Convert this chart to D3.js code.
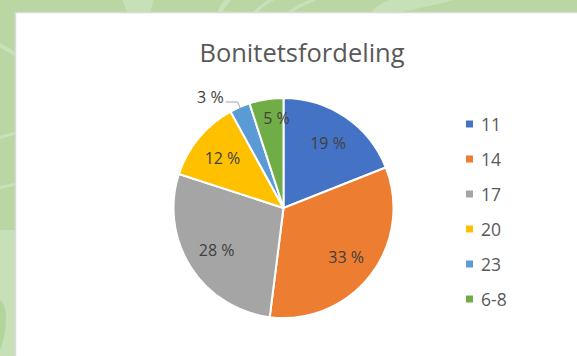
<!DOCTYPE html>
<html>
<head>
<meta charset="utf-8">
<script src="https://cdn.jsdelivr.net/npm/d3@7"></script>
<style>
  html, body { margin: 0; padding: 0; background: #b9d6a3; }
  svg { display: block; }
</style>
</head>
<body>
<svg id="chart" width="577" height="356"></svg>
<script>
// Bonitet classes and their share of the area (percent)
const categories = ["11", "14", "17", "20", "23", "6-8"];
const shares = [19, 33, 28, 12, 3, 5];
const colors = ["#4472C4", "#ED7D31", "#A5A5A5", "#FFC000", "#5B9BD5", "#70AD47"];
const title = "Bonitetsfordeling";

const W = 577, H = 356;
const svg = d3.select("#chart");
const font = "'Open Sans', 'Noto Sans', sans-serif";

// --- green backdrop with soft decorative swirls ---
svg.append("rect").attr("width", W).attr("height", H).attr("fill", "#b9d6a3");
const deco = svg.append("g").attr("fill", "none").attr("stroke", "#c9e1b9");
deco.append("path").attr("d", "M-10,40 C20,55 40,70 70,90").attr("stroke-width", 4);
deco.append("path").attr("d", "M-10,140 C10,135 30,128 60,125").attr("stroke-width", 3);
deco.append("path").attr("d", "M-10,190 C10,185 30,180 60,176").attr("stroke-width", 3);
deco.append("path").attr("d", "M215,30 C218,10 225,0 240,-10").attr("stroke-width", 5);
deco.append("path").attr("d", "M255,30 C240,15 270,0 290,-10").attr("stroke-width", 3);
deco.append("path").attr("d", "M270,30 C285,10 310,0 340,-10").attr("stroke-width", 3);
svg.append("path").attr("d", "M120,-5 L155,-5 L150,14 L128,14 Z").attr("fill", "#c8e0b8");
svg.append("path").attr("d", "M370,14 C380,0 400,-5 420,-5 L470,-5 C440,5 410,10 390,14 Z").attr("fill", "#c8e0b8");
svg.append("rect").attr("x", 0).attr("y", 230).attr("width", 16).attr("height", 130).attr("fill", "#c8e0b7");
svg.append("path").attr("d", "M0,300 C8,305 8,330 0,350 Z").attr("fill", "#b4d49d");

// --- white chart area ---
svg.append("rect")
  .attr("x", 15.5).attr("y", 12.5).attr("width", W).attr("height", H)
  .attr("fill", "#ffffff").attr("stroke", "#d9d9d9").attr("stroke-width", 1.5);

// --- title ---
svg.append("text")
  .attr("x", 302).attr("y", 62)
  .attr("text-anchor", "middle")
  .attr("font-family", font).attr("font-size", 25.5).attr("font-weight", 400)
  .attr("fill", "#595959")
  .text(title);

// --- pie ---
const cx = 283.5, cy = 208, r = 110;
const data = categories.map((c, i) => ({ cat: c, value: shares[i], color: colors[i] }));
const pie = d3.pie().value(d => d.value).sort(null);
const arcs = pie(data);
const arc = d3.arc().innerRadius(0).outerRadius(r);

const g = svg.append("g").attr("transform", `translate(${cx},${cy})`);
g.selectAll("path.slice").data(arcs).join("path")
  .attr("class", "slice")
  .attr("d", arc)
  .attr("fill", d => d.data.color)
  .attr("stroke", "#ffffff").attr("stroke-width", 2).attr("stroke-linejoin", "round");

// point at a given angle (clockwise from 12 o'clock) and radius
const polar = (a, rad) => [Math.sin(a) * rad, -Math.cos(a) * rad];

const labelFmt = v => `${v} %`;
arcs.forEach(d => {
  const span = d.endAngle - d.startAngle;
  const pct = d.data.value;
  if (pct < 4) {
    // too thin for an inside label: place outside with a leader line
    const mid = (d.startAngle + d.endAngle) / 2;
    const p0 = polar(mid, r * 0.99);
    const p1 = polar(mid, r * 1.05);
    const p2 = [p1[0] - 12, p1[1]];
    g.append("polyline")
      .attr("points", [p0, p1, p2].map(p => p.join(",")).join(" "))
      .attr("fill", "none").attr("stroke", "#a6a6a6").attr("stroke-width", 1);
    g.append("text")
      .attr("x", p2[0] - 2).attr("y", p2[1] - 5)
      .attr("text-anchor", "end").attr("dominant-baseline", "central")
      .attr("font-family", font).attr("font-size", 16).attr("fill", "#404040")
      .text(labelFmt(pct));
  } else {
    // thin slices carry the label nearer the rim, biased towards the trailing edge
    const thin = pct < 8;
    const a = thin ? d.startAngle + span * 0.75 : (d.startAngle + d.endAngle) / 2;
    const p = polar(a, thin ? r * 0.82 : r * 0.72);
    g.append("text")
      .attr("x", p[0]).attr("y", p[1])
      .attr("text-anchor", "middle").attr("dominant-baseline", "central")
      .attr("font-family", font).attr("font-size", 16).attr("fill", "#404040")
      .text(labelFmt(pct));
  }
});

// --- legend ---
const ly = d3.scalePoint().domain(categories).range([124, 299]);
const legend = svg.append("g");
categories.forEach((c, i) => {
  legend.append("rect")
    .attr("x", 466).attr("y", ly(c) - 3.5).attr("width", 7).attr("height", 7)
    .attr("fill", colors[i]);
  legend.append("text")
    .attr("x", 481).attr("y", ly(c))
    .attr("dominant-baseline", "central")
    .attr("font-family", font).attr("font-size", 17.5).attr("fill", "#595959")
    .text(c);
});
</script>
</body>
</html>
